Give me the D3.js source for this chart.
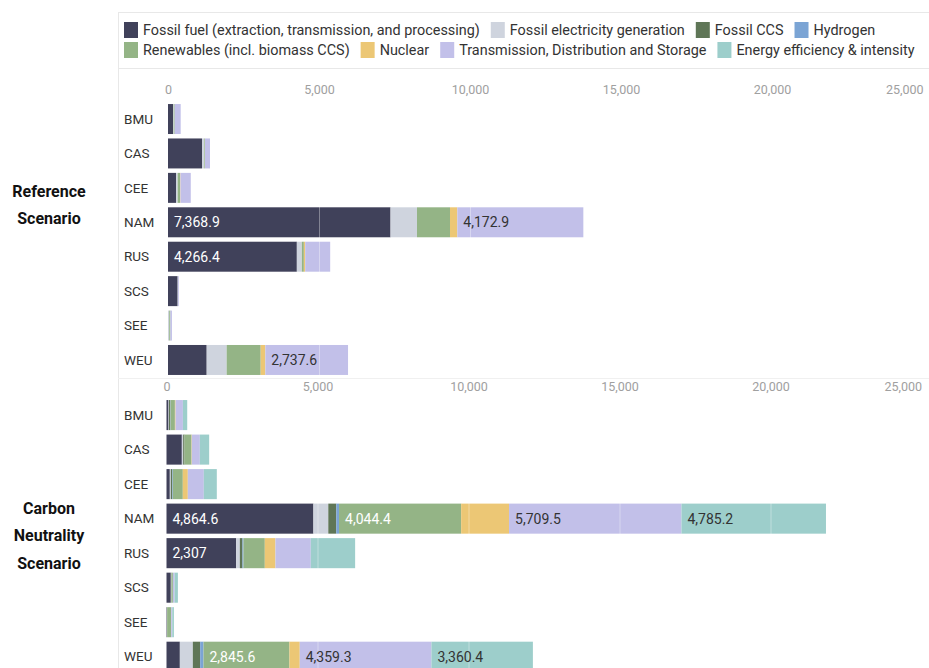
<!DOCTYPE html>
<html><head><meta charset="utf-8">
<script src="https://cdn.jsdelivr.net/npm/d3@7"></script>
<style>
html,body{margin:0;padding:0;background:#fff;}
svg{display:block;font-family:Roboto,"Noto Sans",sans-serif;}
</style></head>
<body>
<svg id="chart" width="929" height="668"></svg>
<script>
const regions = ["BMU","CAS","CEE","NAM","RUS","SCS","SEE","WEU"];
const seriesNames = [
  "Fossil fuel (extraction, transmission, and processing)",
  "Fossil electricity generation",
  "Fossil CCS",
  "Hydrogen",
  "Renewables (incl. biomass CCS)",
  "Nuclear",
  "Transmission, Distribution and Storage",
  "Energy efficiency & intensity"
];
const seriesColors = ["#40415a","#cfd4de","#5f7657","#7ba4d4","#94b486","#ecc775","#c2c0e9","#9dcecb"];
const labelColors  = ["#ffffff","#333333","#ffffff","#ffffff","#ffffff","#333333","#333333","#333333"];
const legendRows = [[0,1,2,3],[4,5,6,7]];
const tickValues = [0,5000,10000,15000,20000,25000];
const scenarioTitles = [["Reference","Scenario"],["Carbon","Neutrality","Scenario"]];

// Reference scenario (per series, per region)
const refFossilFuel = [166, 1126, 265, 7368.9, 4266.4, 320, 0, 1281];
const refFossilElec = [22, 77, 55, 876, 166, 15, 40, 662];
const refFossilCCS  = [0, 0, 0, 0, 0, 0, 0, 0];
const refHydrogen   = [0, 0, 0, 0, 0, 0, 0, 0];
const refRenewables = [33, 22, 77, 1093, 66, 0, 40, 1126];
const refNuclear    = [0, 0, 15, 242, 44, 0, 0, 155];
const refTransmission = [199, 166, 342, 4172.9, 828, 25, 50, 2737.6];
const refEfficiency = [0, 0, 0, 0, 0, 0, 0, 0];

// Carbon neutrality scenario
const cnFossilFuel = [66, 508, 110, 4864.6, 2307, 143, 15, 442];
const cnFossilElec = [15, 44, 33, 493, 121, 15, 5, 430];
const cnFossilCCS  = [44, 44, 44, 265, 88, 10, 0, 243];
const cnHydrogen   = [10, 0, 22, 90, 33, 0, 0, 110];
const cnRenewables = [143, 232, 331, 4044.4, 706, 44, 135, 2845.6];
const cnNuclear    = [22, 11, 166, 1585, 353, 0, 0, 342];
const cnTransmission = [243, 265, 530, 5709.5, 1170, 55, 35, 4359.3];
const cnEfficiency = [143, 309, 430, 4785.2, 1468, 110, 55, 3360.4];

const scenarios = [
  [refFossilFuel, refFossilElec, refFossilCCS, refHydrogen, refRenewables, refNuclear, refTransmission, refEfficiency],
  [cnFossilFuel, cnFossilElec, cnFossilCCS, cnHydrogen, cnRenewables, cnNuclear, cnTransmission, cnEfficiency]
];

const svg = d3.select("#chart");
const W = 929, H = 668;
const fmt = d3.format(",");

// Legend
const legendG = svg.append("g");
legendG.append("rect").attr("x",118.5).attr("y",12.5).attr("width",830).attr("height",56)
  .attr("fill","#fff").attr("stroke","#e8e8e8");
legendRows.forEach((row,ri)=>{
  let x = 124;
  const cy = 30 + ri*20;
  row.forEach(si=>{
    legendG.append("rect").attr("x",x).attr("y",cy-8).attr("width",14).attr("height",16)
      .attr("fill",seriesColors[si]);
    const t = legendG.append("text").attr("x",x+19).attr("y",cy).attr("dy","0.35em")
      .attr("font-size","14.4px").attr("fill","#333").text(seriesNames[si]);
    x += 19 + t.node().getComputedTextLength() + 11;
  });
});

// panel separators
svg.append("line").attr("x1",118.5).attr("x2",118.5).attr("y1",68).attr("y2",H).attr("stroke","#e8e8e8");
svg.append("line").attr("x1",118).attr("x2",W).attr("y1",378.5).attr("y2",378.5).attr("stroke","#f0f0f0");

const panels = [
  {x0:168, axisY:90, yRange:[101.8, 377.2]},
  {x0:166.5, axisY:386.5, yRange:[397.8, 674.0]}
];

panels.forEach((p,pi)=>{
  const g = svg.append("g");
  const x = d3.scaleLinear().domain([0,25000]).range([p.x0, p.x0+755]);
  const y = d3.scaleBand().domain(regions).range(p.yRange).paddingInner(0.129).paddingOuter(0.065);
  const data = regions.map((r,ri)=>{
    const o = {region:r};
    seriesNames.forEach((s,si)=>{ o[s] = scenarios[pi][si][ri]; });
    return o;
  });
  const stacked = d3.stack().keys(seriesNames)(data);

  // axis tick labels
  const axis = d3.axisTop(x).tickValues(tickValues).tickFormat(fmt).tickSize(0).tickPadding(0);
  const ag = g.append("g").attr("transform",`translate(0,${p.axisY})`).call(axis);
  ag.select(".domain").remove();
  ag.selectAll("text").attr("fill","#a0a0a0").attr("font-size","12.5px")
    .attr("font-family","Roboto,sans-serif").attr("dy","0.35em");
  ag.selectAll(".tick").filter(d=>d===25000).select("text").attr("text-anchor","end").attr("dx","0");

  // category labels
  g.selectAll("text.cat").data(regions).join("text").attr("class","cat")
    .attr("x",124).attr("y",d=>y(d)+y.bandwidth()/2).attr("dy","0.35em")
    .attr("font-size","13.5px").attr("fill","#333").text(d=>d);

  // bars
  stacked.forEach((layer,si)=>{
    g.append("g").selectAll("rect").data(layer).join("rect")
      .attr("x",d=>x(d[0])).attr("width",d=>Math.max(0,x(d[1])-x(d[0])))
      .attr("y",d=>y(d.data.region)).attr("height",y.bandwidth())
      .attr("fill",seriesColors[si]);
  });

  // gridlines over bars
  g.selectAll("line.grid").data(tickValues.slice(1)).join("line").attr("class","grid")
    .attr("x1",d=>x(d)+0.5).attr("x2",d=>x(d)+0.5)
    .attr("y1",p.yRange[0]).attr("y2",p.yRange[1])
    .attr("stroke","#ffffff").attr("stroke-opacity",0.35);

  // value labels
  stacked.forEach((layer,si)=>{
    g.append("g").selectAll("text").data(layer.filter(d=>(d[1]-d[0])>2000)).join("text")
      .attr("x",d=>x(d[0])+6).attr("y",d=>y(d.data.region)+y.bandwidth()/2).attr("dy","0.35em")
      .attr("font-size","14px").attr("fill",labelColors[si])
      .text(d=>fmt(Math.round((d[1]-d[0])*10)/10));
  });
});

// scenario titles
scenarioTitles.forEach((lines,i)=>{
  const cy = i===0 ? 205 : 535.5;
  const n = lines.length, lh = 27.5;
  lines.forEach((l,li)=>{
    svg.append("text").attr("x",49).attr("y",cy + (li-(n-1)/2)*lh).attr("dy","0.35em")
      .attr("text-anchor","middle").attr("font-weight","bold").attr("font-size","16px")
      .attr("fill","#111").text(l);
  });
});
</script>
</body></html>
